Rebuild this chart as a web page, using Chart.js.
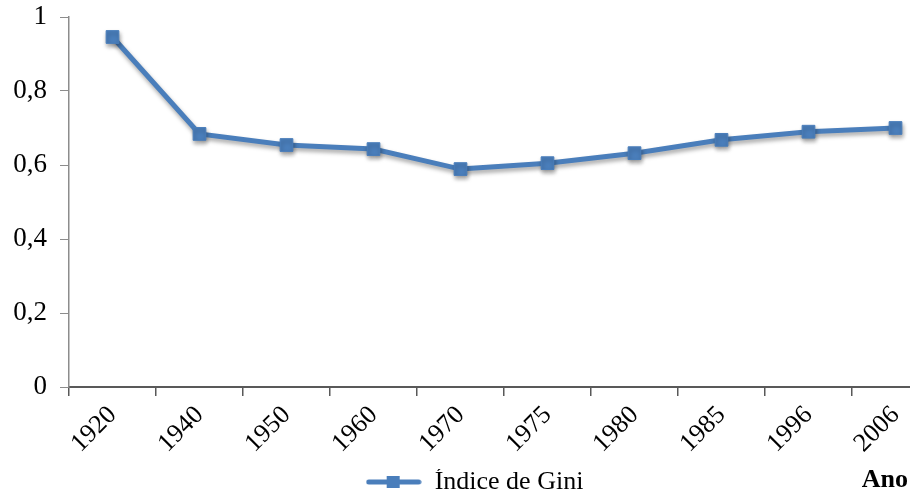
<!DOCTYPE html>
<html>
<head>
<meta charset="utf-8">
<script src="https://cdn.jsdelivr.net/npm/chart.js@4.4.1/dist/chart.umd.min.js"></script>
<style>
  html, body { margin: 0; padding: 0; overflow: hidden; background: #fff; }
  #wrap { width: 910px; height: 492px; overflow: hidden; }
</style>
</head>
<body>
<div id="wrap"><canvas id="grafico" width="949" height="492"></canvas></div>
<script>
// datos
const anos = ['1920', '1940', '1950', '1960', '1970', '1975', '1980', '1985', '1996', '2006'];
const gini = [0.946, 0.684, 0.654, 0.643, 0.589, 0.605, 0.632, 0.668, 0.690, 0.700];
const yTicks = [0, 0.2, 0.4, 0.6, 0.8, 1];
const serieLabel = 'Índice de Gini';
const ejeX = 'Ano';

const azul = '#4a7ebb';
const fuente = "'Liberation Serif', 'Times New Roman', serif";

// icono de leyenda: linea con cuadrado
function iconoLeyenda() {
    const c = document.createElement('canvas');
    c.width = 56; c.height = 16;
    const g = c.getContext('2d');
    g.strokeStyle = azul;
    g.lineWidth = 5;
    g.lineCap = 'round';
    g.beginPath();
    g.moveTo(3, 8); g.lineTo(53, 8);
    g.stroke();
    g.fillStyle = azul;
    g.fillRect(21, 2, 13, 12);
    return c;
}
const icono = iconoLeyenda();

// sombra suave de la linea
const sombra = {
    id: 'sombra',
    beforeDatasetsDraw(chart) {
        const ctx = chart.ctx;
        ctx.save();
        ctx.shadowColor = 'rgba(0,0,0,0.35)';
        ctx.shadowBlur = 4;
        ctx.shadowOffsetX = 1;
        ctx.shadowOffsetY = 3;
    },
    afterDatasetsDraw(chart) {
        chart.ctx.restore();
    }
};

// titulo del eje x abajo a la derecha
const tituloEje = {
    id: 'tituloEje',
    afterDraw(chart) {
        const ctx = chart.ctx;
        ctx.save();
        ctx.font = "bold 26px " + fuente;
        ctx.fillStyle = '#000';
        ctx.textAlign = 'right';
        ctx.textBaseline = 'middle';
        ctx.fillText(ejeX, chart.width - 41, chart.height - 12);
        ctx.restore();
    }
};

const ctx = document.getElementById('grafico').getContext('2d');
new Chart(ctx, {
    type: 'line',
    data: {
        labels: anos,
        datasets: [{
            label: serieLabel,
            data: gini,
            borderColor: azul,
            backgroundColor: azul,
            borderWidth: 5,
            pointStyle: 'rect',
            pointRadius: 9,
            pointBorderWidth: 1,
            pointBackgroundColor: azul,
            pointBorderColor: azul,
            tension: 0,
            fill: false,
            clip: false
        }]
    },
    options: {
        responsive: false,
        animation: false,
        layout: { padding: { top: 17, left: 0, right: 0, bottom: -13 } },
        plugins: {
            tooltip: { enabled: false },
            legend: {
                position: 'bottom',
                labels: {
                    usePointStyle: true,
                    pointStyleWidth: 56,
                    padding: 0,
                    color: '#000',
                    font: { family: fuente, size: 26 },
                    generateLabels(chart) {
                        return [{
                            text: serieLabel,
                            pointStyle: icono,
                            fillStyle: azul,
                            strokeStyle: azul,
                            lineWidth: 0,
                            datasetIndex: 0
                        }];
                    }
                }
            }
        },
        scales: {
            x: {
                type: 'category',
                offset: true,
                grid: {
                    offset: true,
                    drawOnChartArea: false,
                    drawTicks: true,
                    tickLength: 9,
                    color: '#595959',
                    lineWidth: 1.5
                },
                border: { color: '#595959', width: 2 },
                ticks: {
                    minRotation: 45,
                    maxRotation: 45,
                    autoSkip: false,
                    padding: 4,
                    color: '#000',
                    font: { family: fuente, size: 26 }
                },
                afterFit(scale) { scale.height = 82; }
            },
            y: {
                min: 0,
                max: 1,
                afterBuildTicks(scale) {
                    scale.ticks = yTicks.map(v => ({ value: v }));
                },
                grid: {
                    drawOnChartArea: false,
                    drawTicks: true,
                    tickLength: 9,
                    color: '#8c8c8c'
                },
                border: { color: '#8c8c8c', width: 1.5 },
                ticks: {
                    padding: 13,
                    color: '#000',
                    font: { family: fuente, size: 27, lineHeight: 0.2 },
                    callback: v => String(Math.round(v * 10) / 10).replace('.', ',')
                },
                afterFit(scale) { scale.width = 69; }
            }
        }
    },
    plugins: [sombra, tituloEje]
});
</script>
</body>
</html>
